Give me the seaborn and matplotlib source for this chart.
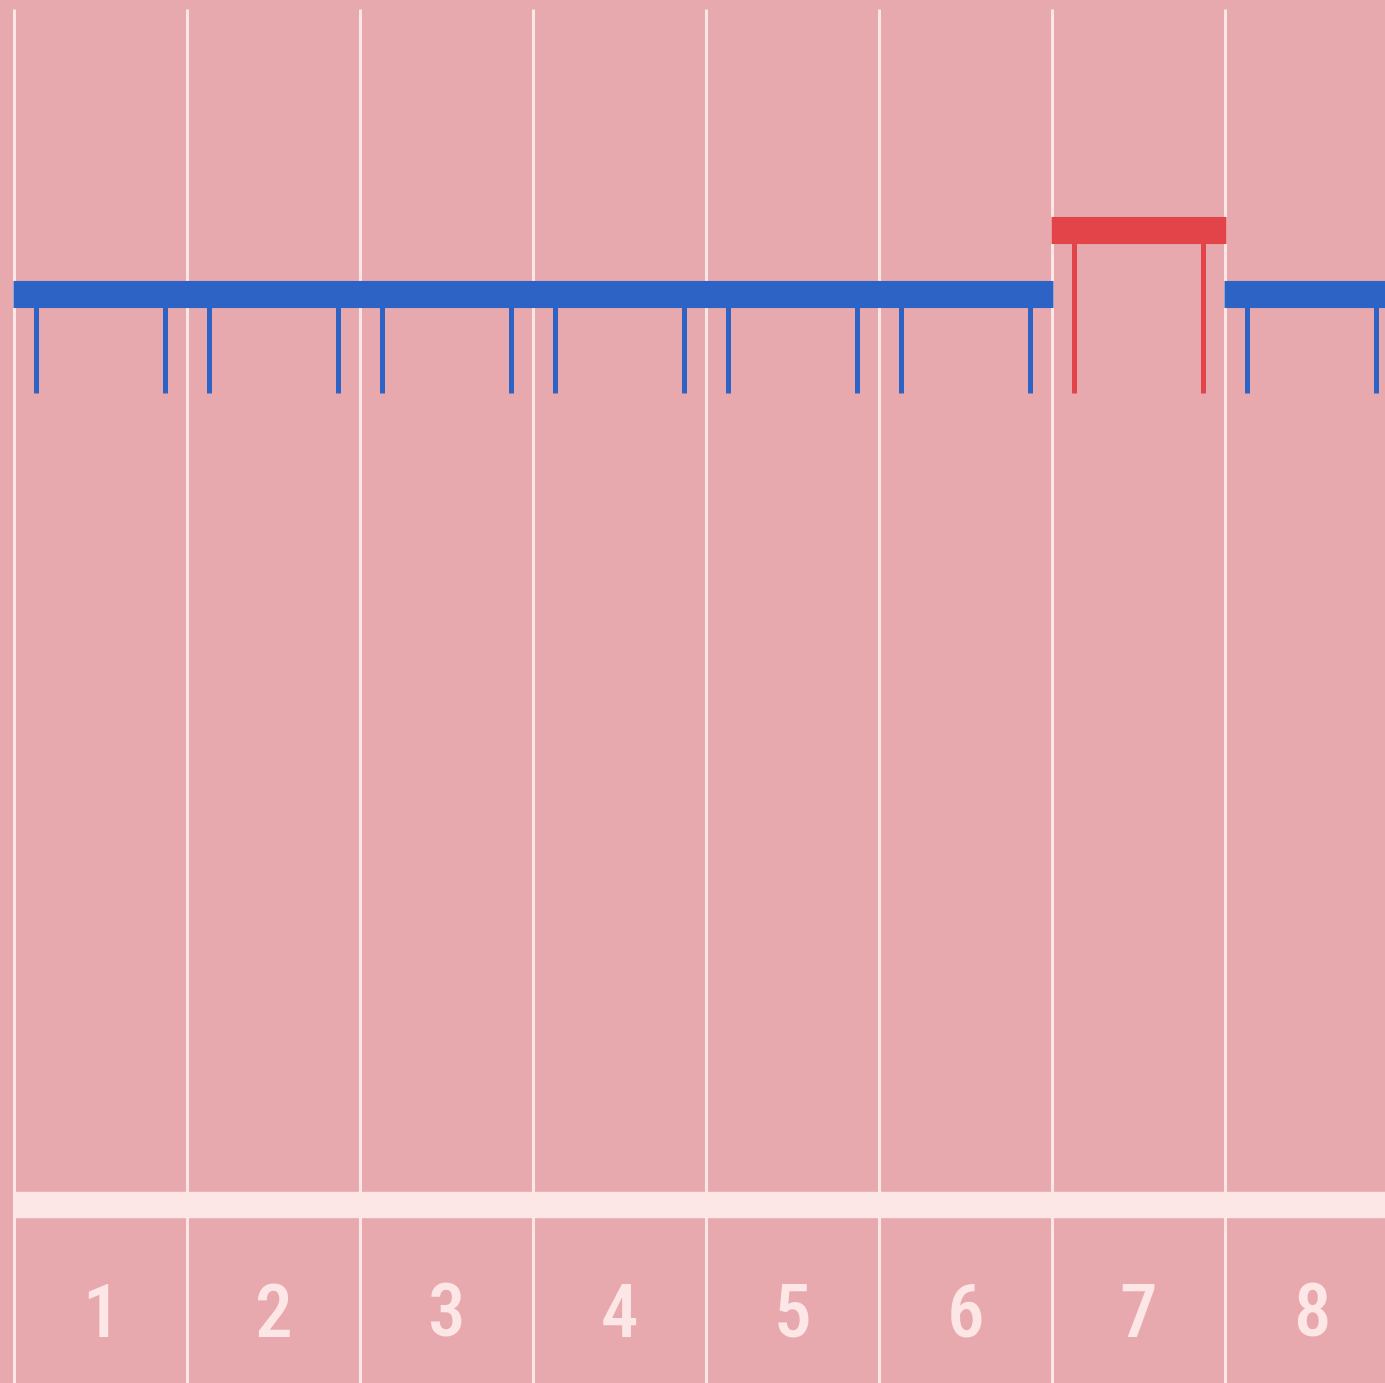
import matplotlib
matplotlib.use("Agg")
import matplotlib.pyplot as plt
import seaborn as sns
import numpy as np
import pandas as pd

# ---- data ----
categories = ["1", "2", "3", "4", "5", "6", "7", "8"]
values = [100, 100, 100, 100, 100, 100, 107, 100]
highlight = [False, False, False, False, False, False, True, False]
leg_level = 89.1

BG = "#E7A9AE"
LIGHT = "#FDE6E6"
BLUE = "#2E63C6"
RED = "#E3444A"

sns.set_theme(style="white", rc={"axes.facecolor": BG, "figure.facecolor": BG})
plt.rcParams["font.family"] = ["Roboto Condensed", "Liberation Sans Narrow", "DejaVu Sans"]

df = pd.DataFrame({"cat": categories, "value": values, "hl": highlight})
df["x"] = np.arange(1, len(df) + 1)

fig = plt.figure(figsize=(13.85, 13.83), dpi=100)
ax = fig.add_axes([0, 0, 1, 1])
ax.set_facecolor(BG)

px_per_unit = 9.11
ax.set_xlim(72.5 / 173, 1457.5 / 173)
ax.set_ylim(-178 / px_per_unit, 1205 / px_per_unit)

# vertical grid lines at category boundaries
top_line = (1205 - 9) / px_per_unit
for b in np.arange(0.5, len(df) + 0.5, 1.0):
    ax.vlines(b, -30, top_line, color=LIGHT, lw=2.2, zorder=1)

# baseline band
ax.hlines(0, 0.5, 9, color=LIGHT, lw=19, capstyle="butt", zorder=2)

# bars: thick top with two legs
eps = 0.006
for _, r in df.iterrows():
    c = RED if r["hl"] else BLUE
    ax.hlines(r["value"], r["x"] - 0.5 - eps, r["x"] + 0.5 + eps, color=c,
              lw=19.5, capstyle="butt", zorder=4)
    for off in (-0.373, 0.373):
        ax.vlines(r["x"] + off, leg_level, r["value"], color=c, lw=3.6,
                  zorder=3)

# category labels
for _, r in df.iterrows():
    ax.text(r["x"], -12.2, r["cat"], ha="center", va="center",
            color=LIGHT, fontsize=54, fontweight="medium",
            fontstretch="condensed")

ax.set_axis_off()
fig.savefig("out.png", dpi=100, facecolor=BG)
